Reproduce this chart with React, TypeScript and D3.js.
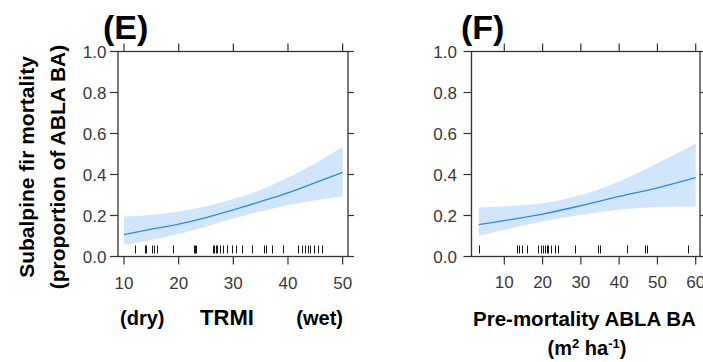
import React from "react";
import * as d3 from "d3";

// Panel E: TRMI
const eX = [10, 15, 20, 25, 30, 35, 40, 45, 50];
const eFit = [0.107, 0.133, 0.158, 0.19, 0.228, 0.268, 0.31, 0.36, 0.41];
const eUpper = [0.195, 0.203, 0.22, 0.245, 0.28, 0.325, 0.385, 0.455, 0.535];
const eLower = [0.057, 0.08, 0.11, 0.145, 0.185, 0.22, 0.25, 0.275, 0.293];
const eRug = [12.1, 13.8, 14.0, 15.1, 15.5, 16.0, 19.0, 22.8, 23.0, 23.2, 26.2, 26.5, 26.8, 27.1, 27.6, 28.2, 28.8, 29.7, 30.5, 31.6, 33.5, 35.6, 35.9, 37.1, 39.0, 41.8, 42.5, 43.1, 43.7, 44.0, 44.8, 45.5, 46.2];
const eTicks = [10, 20, 30, 40, 50];

// Panel F: pre-mortality ABLA BA
const fX = [3.3, 10, 20, 30, 40, 50, 60];
const fFit = [0.155, 0.175, 0.207, 0.248, 0.293, 0.335, 0.385];
const fUpper = [0.239, 0.245, 0.26, 0.3, 0.366, 0.455, 0.55];
const fLower = [0.1, 0.13, 0.171, 0.203, 0.228, 0.241, 0.244];
const fRug = [3.4, 13.2, 13.9, 14.5, 15.8, 18.9, 19.5, 20.2, 20.6, 21.1, 21.5, 22.2, 23.2, 23.9, 28.5, 34.5, 35.0, 42.1, 46.7, 47.4, 58.0];
const fTicks = [10, 20, 30, 40, 50, 60];

const yTicks = [0, 0.2, 0.4, 0.6, 0.8, 1.0];

const AXIS = "#333";
const TICKTXT = "#3a3a3a";
const BAND = "#d2e6fb";
const LINE = "#3189e0";
const FONT = "'Liberation Sans', Arial, sans-serif";

type PanelProps = {
  left: number;
  right: number;
  domain: [number, number];
  xs: number[];
  fit: number[];
  upper: number[];
  lower: number[];
  rug: number[];
  ticks: number[];
  label: string;
  labelX: number;
  yLabelRight: number;
  xLabelBaseline: number;
};

const TOP = 51.5;
const BOTTOM = 256.5;
const TL = 8;

function Panel(p: PanelProps) {
  const x = d3.scaleLinear().domain(p.domain).range([p.left, p.right]);
  const y = d3.scaleLinear().domain([0, 1]).range([BOTTOM, TOP]);
  const idx = p.xs.map((_, i) => i);
  const area = d3
    .area<number>()
    .x((i) => x(p.xs[i]))
    .y0((i) => y(p.lower[i]))
    .y1((i) => y(p.upper[i]))
    .curve(d3.curveMonotoneX);
  const line = d3
    .line<number>()
    .x((i) => x(p.xs[i]))
    .y((i) => y(p.fit[i]))
    .curve(d3.curveMonotoneX);
  return (
    <g>
      <path d={area(idx) || ""} fill={BAND} />
      <path d={line(idx) || ""} fill="none" stroke={LINE} strokeWidth={1.3} />
      {p.rug.map((v, i) => {
        const rx = Math.round(x(v)) + 0.5;
        return <line key={"r" + i} x1={rx} x2={rx} y1={BOTTOM - 3} y2={BOTTOM - 11} stroke="#1a1a1a" strokeWidth={1} />;
      })}
      <rect x={p.left} y={TOP} width={p.right - p.left} height={BOTTOM - TOP} fill="none" stroke={AXIS} strokeWidth={1.3} />
      {p.ticks.map((t) => (
        <g key={"xt" + t}>
          <line x1={x(t)} x2={x(t)} y1={BOTTOM} y2={BOTTOM + TL} stroke={AXIS} strokeWidth={1.2} />
          <line x1={x(t)} x2={x(t)} y1={TOP} y2={TOP - TL} stroke={AXIS} strokeWidth={1.2} />
          <text x={x(t)} y={p.xLabelBaseline} textAnchor="middle" fontSize={17} fill={TICKTXT} fontFamily={FONT}>
            {t}
          </text>
        </g>
      ))}
      {yTicks.map((t) => (
        <g key={"yt" + t}>
          <line x1={p.left} x2={p.left - TL} y1={y(t)} y2={y(t)} stroke={AXIS} strokeWidth={1.2} />
          <line x1={p.right} x2={p.right + 6} y1={y(t)} y2={y(t)} stroke={AXIS} strokeWidth={1.2} />
          <text x={p.yLabelRight} y={y(t)} dy="0.36em" textAnchor="end" fontSize={17} fill={TICKTXT} fontFamily={FONT}>
            {t.toFixed(1)}
          </text>
        </g>
      ))}
      <text x={p.labelX} y={38.5} fontSize={34} fontWeight="bold" fill="#000" fontFamily={FONT}>
        {p.label}
      </text>
    </g>
  );
}

export default function App() {
  return (
    <svg width={703} height={362} style={{ position: "absolute", left: 0, top: 0, background: "#fff" }}>
      <Panel
        left={118}
        right={348}
        domain={[8.9, 50.98]}
        xs={eX}
        fit={eFit}
        upper={eUpper}
        lower={eLower}
        rug={eRug}
        ticks={eTicks}
        label="(E)"
        labelX={103}
        yLabelRight={106.5}
        xLabelBaseline={289}
      />
      <Panel
        left={471.5}
        right={700}
        domain={[1.43, 61.12]}
        xs={fX}
        fit={fFit}
        upper={fUpper}
        lower={fLower}
        rug={fRug}
        ticks={fTicks}
        label="(F)"
        labelX={461}
        yLabelRight={457}
        xLabelBaseline={288}
      />
      <g transform="translate(34,167) rotate(-90)">
        <text textAnchor="middle" fontSize={21} fontWeight="bold" fontFamily={FONT} fill="#000">
          Subalpine fir mortality
        </text>
      </g>
      <g transform="translate(65,167) rotate(-90)">
        <text textAnchor="middle" fontSize={21} fontWeight="bold" fontFamily={FONT} fill="#000">
          (proportion of ABLA BA)
        </text>
      </g>
      <text x={120} y={325} fontSize={20} fontWeight="bold" fontFamily={FONT} fill="#000">(dry)</text>
      <text x={227} y={325} textAnchor="middle" fontSize={22} fontWeight="bold" fontFamily={FONT} fill="#000">TRMI</text>
      <text x={343} y={325} textAnchor="end" fontSize={20} fontWeight="bold" fontFamily={FONT} fill="#000">(wet)</text>
      <text x={473} y={326} fontSize={20.5} fontWeight="bold" fontFamily={FONT} fill="#000">Pre-mortality ABLA BA</text>
      <text x={587} y={355} textAnchor="middle" fontSize={20} fontWeight="bold" fontFamily={FONT} fill="#000">
        (m<tspan fontSize={13} dy={-7}>2</tspan>
        <tspan dy={7}> ha</tspan>
        <tspan fontSize={13} dy={-7}>-1</tspan>
        <tspan dy={7}>)</tspan>
      </text>
    </svg>
  );
}
